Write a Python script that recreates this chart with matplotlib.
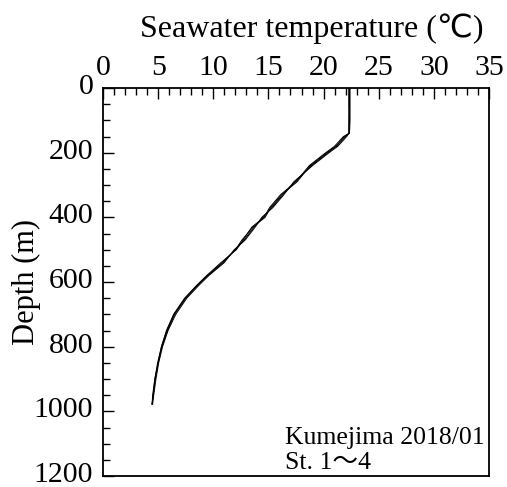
import matplotlib
matplotlib.use('Agg')
import matplotlib.pyplot as plt
import matplotlib.transforms as mtransforms
from matplotlib.ticker import MultipleLocator

plt.rcParams['font.family'] = ['Liberation Serif', 'DejaVu Sans', 'Noto Sans CJK JP']

# depth (m) and temperature (degC) for the four stations
depth = [0, 50, 100, 140, 150, 165, 180, 200, 240, 290, 330, 370, 400, 430,
         470, 500, 540, 580, 610, 650, 700, 750, 800, 850, 900, 950, 978]
st1 = [22.3, 22.3, 22.3, 22.3, 22.0, 21.6, 21.1, 20.4, 18.9, 17.4, 16.3, 15.3, 14.5, 13.7,
       12.8, 12.0, 10.9, 9.5, 8.6, 7.5, 6.5, 5.85, 5.35, 5.0, 4.75, 4.55, 4.45]
st2 = [22.4, 22.4, 22.4, 22.35, 21.8, 21.4, 21.0, 20.2, 18.7, 17.5, 16.1, 15.1, 14.6, 13.5,
       12.7, 12.1, 10.7, 9.4, 8.5, 7.4, 6.4, 5.75, 5.3, 4.95, 4.7, 4.5, 4.45]
st3 = [22.3, 22.3, 22.35, 22.3, 22.1, 21.7, 21.3, 20.5, 19.0, 17.3, 16.4, 15.4, 14.4, 13.8,
       12.9, 11.9, 11.0, 9.6, 8.7, 7.6, 6.6, 5.9, 5.4, 5.05, 4.8, 4.6, 4.5]
st4 = [22.35, 22.35, 22.3, 22.3, 21.9, 21.5, 21.2, 20.3, 18.8, 17.6, 16.2, 15.2, 14.7, 13.6,
       12.6, 12.0, 10.8, 9.5, 8.55, 7.45, 6.45, 5.8, 5.3, 5.0, 4.7, 4.55, 4.45]
stations = [st1, st2, st3, st4]

fig = plt.figure(figsize=(5.07, 4.87), dpi=100)
ax = fig.add_axes([103 / 507, 11 / 487, 386 / 507, 388 / 487])

for temp in stations:
    ax.plot(temp, depth, color='black', lw=0.7)

ax.set_xlim(0, 35)
ax.set_ylim(1200, 0)
ax.xaxis.tick_top()
ax.xaxis.set_major_locator(MultipleLocator(5))
ax.xaxis.set_minor_locator(MultipleLocator(1))
ax.yaxis.set_major_locator(MultipleLocator(200))
ax.yaxis.set_minor_locator(MultipleLocator(50))
ax.tick_params(which='both', direction='in', top=True, bottom=False,
               left=True, right=False, width=1.0, labelsize=21.5)
ax.tick_params(axis='x', which='major', length=8, pad=5)
ax.tick_params(axis='y', which='major', length=8, pad=7)
ax.tick_params(which='minor', length=5)
for s in ax.spines.values():
    s.set_linewidth(1.3)

# y tick labels sit a few pixels above their ticks in the original
shift = mtransforms.ScaledTranslation(0, 4 / 100, fig.dpi_scale_trans)
for lab in ax.get_yticklabels():
    lab.set_transform(lab.get_transform() + shift)

fig.text(312 / 507, 1 - 37 / 487, 'Seawater temperature (\u2103)',
         ha='center', va='baseline', fontsize=23)
ax.set_ylabel('Depth (m)', fontsize=22)
ax.yaxis.set_label_coords(-0.16, 0.5)

ax.text(285 / 507, 1 - 469 / 487, 'Kumejima 2018/01\nSt. 1\u301c4', transform=fig.transFigure,
        ha='left', va='baseline', fontsize=18.5, linespacing=1.2,
        family=['Liberation Serif', 'Noto Sans CJK JP'])

fig.savefig('out.png', dpi=100)
